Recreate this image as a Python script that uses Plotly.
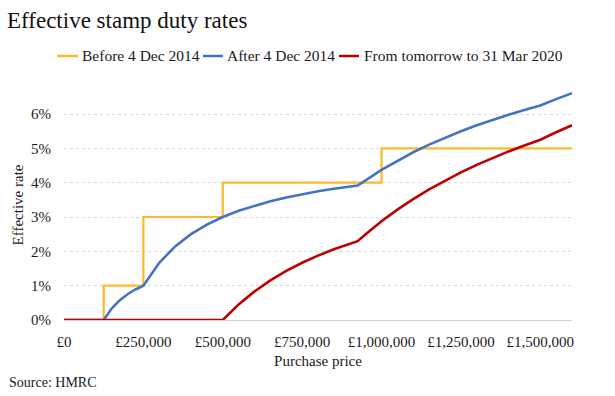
import plotly.graph_objects as go

# Purchase price (GBP) and effective rate (%)
before_x = [0, 125000, 125000, 250000, 250000, 500000, 500000, 1000000, 1000000, 1600000]
before_y = [0, 0, 1, 1, 3, 3, 4, 4, 5, 5]

after_x = [0, 125000, 150000, 175000, 200000, 225000, 250000, 300000, 350000, 400000, 450000,
           500000, 550000, 600000, 650000, 700000, 750000, 800000, 850000, 900000, 925000,
           1000000, 1050000, 1100000, 1150000, 1200000, 1250000, 1300000, 1350000, 1400000,
           1450000, 1500000, 1550000, 1600000]
after_y = [0, 0, 0.333, 0.571, 0.75, 0.889, 1.0, 1.667, 2.143, 2.5, 2.778,
           3.0, 3.182, 3.333, 3.462, 3.571, 3.667, 3.75, 3.824, 3.889, 3.919,
           4.375, 4.643, 4.886, 5.109, 5.313, 5.5, 5.673, 5.833, 5.982,
           6.121, 6.25, 6.435, 6.609]

holiday_x = [0, 500000, 550000, 600000, 650000, 700000, 750000, 800000, 850000, 900000, 925000,
             950000, 1000000, 1050000, 1100000, 1150000, 1200000, 1250000, 1300000, 1350000,
             1400000, 1450000, 1500000, 1550000, 1600000]
holiday_y = [0, 0, 0.455, 0.833, 1.154, 1.429, 1.667, 1.875, 2.059, 2.222, 2.297,
             2.5, 2.875, 3.214, 3.523, 3.804, 4.063, 4.3, 4.519, 4.722,
             4.911, 5.086, 5.25, 5.468, 5.672]

series_names = ["Before 4 Dec 2014", "After 4 Dec 2014", "From tomorrow to 31 Mar 2020"]
series_colors = ["#FDB92B", "#4472C4", "#C00000"]

x_tickvals = [0, 250000, 500000, 750000, 1000000, 1250000, 1500000]
x_ticktext = ["£0", "£250,000", "£500,000", "£750,000", "£1,000,000", "£1,250,000", "£1,500,000"]
y_tickvals = [0, 1, 2, 3, 4, 5, 6]
y_ticktext = ["0%", "1%", "2%", "3%", "4%", "5%", "6%"]

FONT = "Liberation Serif"
W, H = 615, 396
L, R, T, B = 64, 43, 90, 76
PW, PH = W - L - R, H - T - B


def px(xp):
    return (xp - L) / PW


def py(yp):
    return (H - B - yp) / PH


fig = go.Figure()
fig.add_trace(go.Scatter(x=before_x, y=before_y, mode="lines", name=series_names[0],
                         line=dict(color=series_colors[0], width=2.2)))
fig.add_trace(go.Scatter(x=after_x, y=after_y, mode="lines", name=series_names[1],
                         line=dict(color=series_colors[1], width=2.6)))
fig.add_trace(go.Scatter(x=holiday_x, y=holiday_y, mode="lines", name=series_names[2],
                         line=dict(color=series_colors[2], width=2.6)))

fig.update_layout(
    width=W, height=H,
    margin=dict(l=L, r=R, t=T, b=B),
    paper_bgcolor="white", plot_bgcolor="white",
    font=dict(family=FONT, size=15, color="#1a1a1a"),
    title=dict(text="Effective stamp duty rates", x=0.0, xanchor="left", pad=dict(l=7),
               yref="container", y=1 - 20 / H, yanchor="middle",
               font=dict(family=FONT, size=23, color="#111111")),
    showlegend=False,
)
fig.update_xaxes(range=[0, 1600000], tickvals=x_tickvals, ticktext=x_ticktext,
                 showgrid=False, zeroline=False, showline=True, linecolor="#d0d0d0",
                 linewidth=1, ticks="", automargin=False, ticklabelstandoff=8,
                 tickfont=dict(family=FONT, size=15),
                 title=dict(text="Purchase price", standoff=6, font=dict(family=FONT, size=15)))
fig.update_yaxes(range=[0, 6.7], tickvals=y_tickvals, ticktext=y_ticktext,
                 showgrid=True, gridcolor="#d9d9d9", griddash="dot", gridwidth=1,
                 zeroline=False, ticks="", automargin=False, ticklabelstandoff=12,
                 tickfont=dict(family=FONT, size=15),
                 title=dict(text="Effective rate", standoff=3, font=dict(family=FONT, size=15)))

# legend drawn as line swatches + text, laid out in one centred row
legend_y = 56
swatch_x = [(57, 78), (203, 223), (339, 359)]
text_x = [80, 225, 362]
for (x0, x1), tx, name, col in zip(swatch_x, text_x, series_names, series_colors):
    fig.add_shape(type="line", xref="paper", yref="paper", x0=px(x0), x1=px(x1),
                  y0=py(legend_y), y1=py(legend_y), line=dict(color=col, width=2.5))
    fig.add_annotation(text=name, xref="paper", yref="paper", x=px(tx), y=py(legend_y),
                       xanchor="left", yanchor="middle", showarrow=False,
                       font=dict(family=FONT, size=15.5, color="#1a1a1a"))

fig.add_annotation(text="Source: HMRC", xref="paper", yref="paper", x=px(7), y=py(382),
                   xanchor="left", yanchor="middle", showarrow=False,
                   font=dict(family=FONT, size=14, color="#1a1a1a"))

fig.write_html("out.html", config={"displayModeBar": False},
               post_script="document.body.style.margin='0px';")
